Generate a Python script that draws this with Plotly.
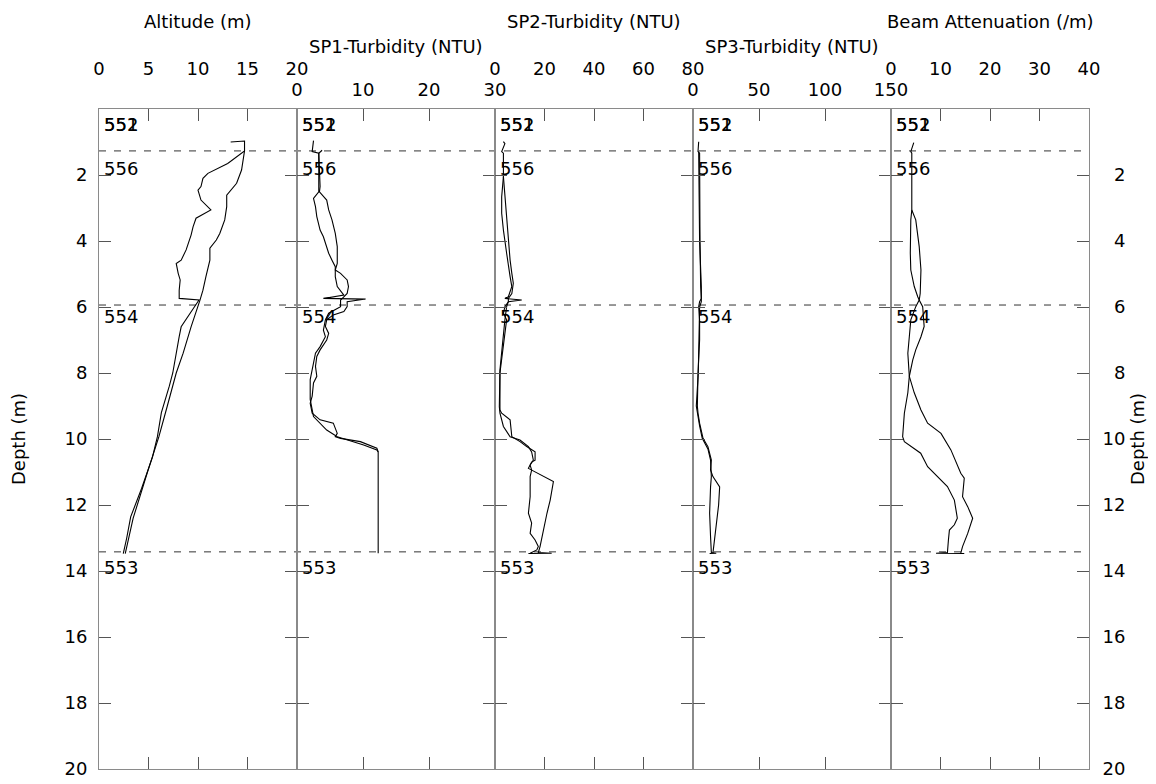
import plotly.graph_objects as go

# ---------------- data ----------------
panel_titles = ["Altitude (m)", "SP1-Turbidity (NTU)", "SP2-Turbidity (NTU)",
                "SP3-Turbidity (NTU)", "Beam Attenuation (/m)"]
x_ranges = [[0, 20], [0, 30], [0, 80], [0, 150], [0, 40]]
x_tickvals = [[0, 5, 10, 15, 20], [0, 10, 20, 30], [0, 20, 40, 60, 80],
              [0, 50, 100, 150], [0, 10, 20, 30, 40]]
depth_range = [20, 0]
depth_ticks = [2, 4, 6, 8, 10, 12, 14, 16, 18, 20]
stop_depths = [1.27, 5.94, 13.42]
station_names = ["551", "552", "556", "554", "553"]
station_depths = [0.48, 0.48, 1.8, 6.3, 13.9]

# Panel 1: altitude
alt_c1_depth = [1.00, 0.97, 1.27, 1.65, 1.95, 2.10, 2.35, 2.46, 2.76, 3.06, 3.31, 3.57, 3.82,
                4.07, 4.27, 4.58, 4.68, 4.98, 5.18, 5.49, 5.74, 5.79, 6.6, 6.9, 7.4, 8.0,
                8.4, 9.2, 9.93, 10.55, 11.5, 12.36, 13.0, 13.47]
alt_c1_val = [13.3, 14.7, 14.7, 13.0, 11.0, 10.5, 10.3, 10.0, 10.3, 11.3, 9.8, 9.5, 9.3,
              9.0, 8.8, 8.3, 7.8, 8.0, 8.2, 8.1, 8.1, 10.1, 8.3, 8.1, 7.8, 7.45,
              7.1, 6.3, 5.9, 5.4, 4.3, 3.2, 2.8, 2.45]
alt_c2_depth = [1.27, 1.85, 2.25, 2.61, 2.96, 3.36, 3.77, 3.97, 4.22, 4.58, 5.08, 5.49, 5.79,
                6.6, 7.4, 8.0, 9.0, 9.93, 11.0, 12.4, 13.47]
alt_c2_val = [14.7, 14.4, 13.9, 12.9, 12.9, 12.7, 12.2, 11.85, 11.2, 11.2, 10.8, 10.5, 10.2,
              9.3, 8.5, 7.8, 6.9, 6.05, 4.9, 3.45, 2.65]

# Panel 2: SP1 turbidity
sp1_c1_depth = [0.96, 1.29, 1.34, 1.85, 2.35, 2.51, 2.71, 2.96, 3.26, 3.67, 3.87, 4.17, 4.37,
                4.58, 4.78, 5.08, 5.38, 5.64, 5.74, 5.76, 5.84, 5.99, 6.14, 6.24, 6.39, 6.59,
                6.8, 7.0, 7.3, 7.5, 7.8, 8.1, 8.3, 8.7, 8.92, 9.22, 9.42, 9.52, 9.83, 9.93,
                9.98, 10.08, 10.28, 10.39, 13.46]
sp1_c1_val = [2.5, 2.3, 3.3, 3.3, 3.4, 3.3, 2.5, 2.8, 3.0, 3.5, 4.0, 4.5, 4.8,
              5.3, 5.8, 5.8, 6.1, 7.1, 4.0, 10.4, 7.6, 7.6, 7.1, 5.5, 4.5, 4.3,
              4.8, 4.5, 3.5, 3.0, 2.8, 3.0, 2.5, 2.3, 2.0, 2.3, 3.5, 5.5, 6.1, 5.8,
              6.6, 9.6, 12.1, 12.3, 12.3]
sp1_c2_depth = [1.25, 1.34, 1.85, 2.35, 2.51, 2.76, 3.06, 3.36, 3.77, 4.17, 4.68, 4.88, 4.98,
                5.18, 5.38, 5.59, 5.69, 5.79, 5.99, 6.19, 6.39, 6.7, 6.9, 7.2, 7.4, 7.7,
                8.2, 8.8, 9.32, 9.73, 9.93, 10.18, 10.33, 10.39]
sp1_c2_val = [3.8, 3.3, 3.4, 3.5, 3.4, 4.5, 4.8, 5.3, 5.8, 6.1, 6.1, 5.8, 6.6,
              7.6, 7.8, 7.6, 7.1, 6.6, 6.6, 4.8, 4.3, 4.0, 4.3, 3.5, 2.8, 2.5,
              2.0, 2.0, 2.5, 4.5, 6.1, 10.1, 12.1, 12.3]

# Panel 3: SP2 turbidity
sp2_c1_depth = [0.99, 1.05, 1.29, 1.34, 2.05, 2.66, 3.16, 3.67, 4.37, 4.78, 5.08, 5.38, 5.69,
                5.74, 5.79, 5.84, 5.99, 6.19, 6.39, 6.8, 7.2, 7.6, 8.0, 9.12, 9.22, 9.42,
                9.93, 10.08, 10.23, 10.39, 10.64, 10.7, 10.89, 11.29, 11.85, 12.25, 12.55,
                12.96, 13.26, 13.44, 13.46, 13.47]
sp2_c1_val = [3.4, 4.0, 2.7, 3.4, 3.4, 2.7, 2.7, 3.4, 4.7, 5.4, 6.1, 6.8, 5.4,
              4.0, 10.8, 5.4, 4.0, 3.4, 4.7, 4.0, 3.4, 2.7, 2.0, 2.0, 2.7, 6.1,
              6.8, 10.1, 12.8, 16.2, 16.2, 14.8, 13.5, 23.6, 22.3, 21.0, 20.2,
              18.9, 18.2, 17.5, 22.9, 13.5]
sp2_c2_depth = [2.05, 2.66, 3.16, 3.87, 4.58, 4.98, 5.28, 5.59, 5.74, 5.84, 5.99, 6.39, 6.9,
                7.4, 7.9, 9.02, 9.22, 9.62, 9.93, 10.03, 10.23, 10.39, 10.64, 10.79, 10.94,
                11.14, 11.75, 12.25, 12.55, 12.86, 13.06, 13.26, 13.36, 13.46]
sp2_c2_val = [3.4, 4.0, 4.7, 5.4, 6.1, 6.8, 7.4, 6.8, 5.4, 5.4, 4.7, 4.0, 3.4,
              2.7, 2.0, 1.75, 2.0, 3.4, 6.1, 10.1, 13.5, 14.8, 15.5, 14.2, 14.8,
              14.2, 14.2, 13.5, 14.8, 14.2, 16.2, 17.5, 16.9, 14.2]

# Panel 4: SP3 turbidity
sp3_c1_depth = [0.99, 1.29, 1.34, 2.5, 4.0, 5.38, 5.74, 5.84, 5.99, 6.4, 7.0, 8.0, 9.0, 9.22,
                9.52, 9.98, 10.23, 10.64, 10.94, 11.14, 11.45, 12.0, 12.66, 13.16, 13.46]
sp3_c1_val = [4.3, 3.8, 5.0, 5.0, 5.3, 5.8, 6.3, 5.0, 4.3, 5.0, 5.0, 3.8, 3.3, 3.8,
              5.0, 7.6, 11.3, 13.9, 13.3, 15.1, 20.2, 19.4, 17.6, 15.8, 15.1]
sp3_c2_depth = [1.29, 2.5, 4.0, 5.38, 5.69, 5.84, 6.0, 7.0, 8.0, 9.0, 9.22, 9.6, 9.98, 10.3,
                10.64, 11.14, 11.45, 12.25, 12.96, 13.44, 13.46, 13.47]
sp3_c2_val = [4.3, 4.6, 5.0, 6.3, 6.3, 6.3, 5.0, 4.3, 4.0, 2.5, 3.3, 5.0, 7.0, 11.3,
              13.3, 13.9, 13.3, 12.6, 13.3, 13.9, 17.6, 12.6]

# Panel 5: beam attenuation
beam_c1_depth = [1.02, 1.29, 1.34, 3.06, 3.36, 4.37, 4.88, 5.38, 5.69, 5.79, 5.99, 6.39, 6.9,
                 7.4, 8.1, 8.6, 9.22, 9.93, 10.08, 10.43, 10.84, 11.14, 11.44, 11.85, 12.4,
                 12.6, 12.76, 13.06, 13.44, 13.46, 13.47]
beam_c1_val = [4.6, 4.0, 4.2, 4.2, 4.0, 3.9, 4.0, 4.7, 5.4, 5.7, 5.0, 4.0, 3.7,
               3.4, 3.7, 3.4, 2.7, 2.35, 2.7, 6.0, 7.4, 9.4, 11.4, 12.8, 13.4,
               12.8, 11.8, 11.6, 11.4, 9.1, 14.8]
beam_c2_depth = [3.06, 3.36, 4.17, 4.88, 5.59, 5.79, 5.99, 6.59, 6.9, 7.3, 7.6, 8.1, 8.6,
                 9.12, 9.52, 9.83, 10.33, 11.04, 11.19, 11.75, 12.05, 12.4, 12.86, 13.26,
                 13.46]
beam_c2_val = [4.2, 5.0, 5.7, 6.05, 5.9, 5.7, 6.4, 6.7, 6.05, 5.0, 4.4, 3.7, 4.7,
               6.05, 7.4, 10.1, 12.1, 14.1, 14.8, 14.45, 15.5, 16.5, 15.5, 14.45,
               14.1]

casts = [
    [(alt_c1_val, alt_c1_depth), (alt_c2_val, alt_c2_depth)],
    [(sp1_c1_val, sp1_c1_depth), (sp1_c2_val, sp1_c2_depth)],
    [(sp2_c1_val, sp2_c1_depth), (sp2_c2_val, sp2_c2_depth)],
    [(sp3_c1_val, sp3_c1_depth), (sp3_c2_val, sp3_c2_depth)],
    [(beam_c1_val, beam_c1_depth), (beam_c2_val, beam_c2_depth)],
]

# ---------------- figure ----------------
FONT = "DejaVu Sans"
FS = 18
BORDER = "#8a8a8a"
TICKC = "#555555"
# page body adds an 8 px margin; the figure is sized/offset to compensate
FIG_W, FIG_H = 1140, 770
M_L, M_T, M_B = 91, 101, 9
PLOT_W = 990
PLOT_H = FIG_H - M_T - M_B

# right-hand depth labels are right-aligned in the original: pad with figure spaces
right_depth_text = [("\u2007" + str(v)) if v < 10 else str(v) for v in depth_ticks]


def sfx(k):
    return "" if k == 1 else str(k)


fig = go.Figure()
n = len(panel_titles)
for i in range(n):
    k = i + 1
    for vals, deps in casts[i]:
        fig.add_trace(go.Scatter(
            x=vals, y=deps, mode="lines",
            line=dict(color="black", width=1.1),
            xaxis=f"x{sfx(k)}", yaxis=f"y{sfx(k)}", showlegend=False, hoverinfo="skip"))

layout = dict(
    width=FIG_W, height=FIG_H,
    margin=dict(l=M_L, r=FIG_W - M_L - PLOT_W, t=M_T, b=M_B, autoexpand=False),
    paper_bgcolor="white", plot_bgcolor="white",
    font=dict(family=FONT, size=FS, color="black"),
    showlegend=False,
)

for i in range(n):
    k = i + 1
    upper = (i % 2 == 0)
    layout[f"xaxis{k}"] = dict(
        domain=[i / n, (i + 1) / n], anchor=f"y{sfx(k)}", side="top",
        range=x_ranges[i], tickvals=x_tickvals[i],
        ticks="inside", ticklen=12, tickcolor=TICKC, tickwidth=1,
        showline=True, linecolor=BORDER, linewidth=1, mirror="ticks",
        showgrid=False, zeroline=False,
        tickfont=dict(family=FONT, size=FS, color="black"),
        ticklabelstandoff=26 if upper else 5,
        ticklabeloverflow="allow", automargin=False,
        fixedrange=True,
    )
    ydict = dict(
        domain=[0, 1], anchor=f"x{sfx(k)}", range=depth_range, tickvals=depth_ticks,
        ticks="inside", ticklen=12, tickcolor=TICKC, tickwidth=1,
        showline=True, linecolor=BORDER, linewidth=1, mirror="ticks",
        showgrid=False, zeroline=False,
        tickfont=dict(family=FONT, size=FS, color="black"),
        showticklabels=(k == 1 or k == n),
        ticklabeloverflow="allow", automargin=False,
        fixedrange=True,
    )
    if k == n:
        ydict["side"] = "right"
        ydict["ticktext"] = right_depth_text
        ydict["ticklabelstandoff"] = 9
    elif k == 1:
        ydict["ticklabelstandoff"] = 7
    layout[f"yaxis{k}"] = ydict

fig.update_layout(**layout)

# stop (dashed) lines across all panels
for d in stop_depths:
    fig.add_shape(type="line", xref="paper", x0=0, x1=1, yref="y", y0=d, y1=d,
                  line=dict(color="#333333", width=1, dash="7px,8px"), layer="below")

# station labels in every panel
for i in range(n):
    k = i + 1
    for name, d in zip(station_names, station_depths):
        fig.add_annotation(text=name, xref=f"x{sfx(k)} domain", x=0, xanchor="left", xshift=3,
                           yref=f"y{sfx(k)}", y=d, yanchor="middle", showarrow=False,
                           font=dict(family=FONT, size=FS, color="black"))

# panel titles (staggered rows); pixel rows measured from page top
for i, t in enumerate(panel_titles):
    ypix = 22 if i % 2 == 0 else 47
    fig.add_annotation(text=t, xref="paper", x=(i + 0.5) / n, xanchor="center",
                       yref="paper", y=1 + (M_T + 8 - ypix) / PLOT_H, yanchor="middle",
                       showarrow=False, font=dict(family=FONT, size=FS, color="black"))

# depth axis titles
for xpix in [18, 1137]:
    fig.add_annotation(text="Depth (m)", xref="paper", x=(xpix - 8 - M_L) / PLOT_W,
                       xanchor="center", yref="paper", y=0.5, yanchor="middle", textangle=-90,
                       showarrow=False, font=dict(family=FONT, size=FS, color="black"))

fig.write_html("out.html")
